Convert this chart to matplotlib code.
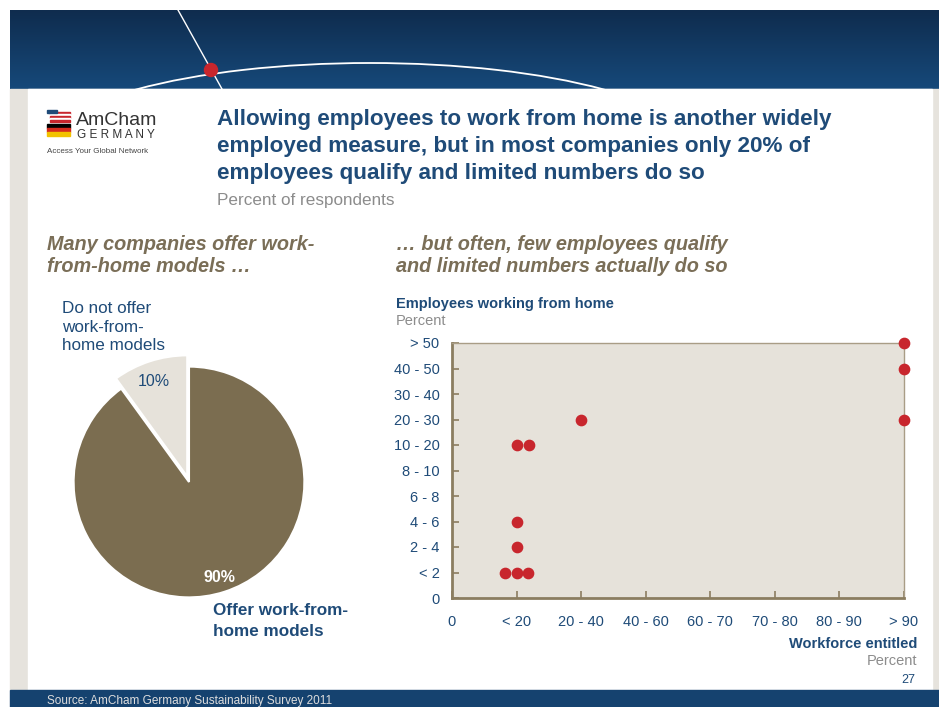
import numpy as np
import matplotlib
matplotlib.use("Agg")
import matplotlib.pyplot as plt
from matplotlib.patches import Rectangle, Arc, Circle, Polygon

plt.rcParams["font.family"] = ["Liberation Sans", "DejaVu Sans"]

# Daten
pie_labels = ["Do not offer work-from-home models", "Offer work-from-home models"]
pie_values = [10, 90]

y_cats = ["0", "< 2", "2 - 4", "4 - 6", "6 - 8", "8 - 10", "10 - 20", "20 - 30", "30 - 40", "40 - 50", "> 50"]
x_cats = ["0", "< 20", "20 - 40", "40 - 60", "60 - 70", "70 - 80", "80 - 90", "> 90"]
# Punkte (Position auf der Kategorie-Achse, leicht versetzt wie im Original)
pts_x = [0.82, 1.0, 1.18, 1.0, 1.0, 1.0, 1.2, 2.0, 7.0, 7.0, 7.0]
pts_y = [1, 1, 1, 2, 3, 6, 6, 7, 7, 9, 10]

W, H = 939, 707
BLUE = "#1f4b78"
BROWN = "#7b6d50"
BEIGE = "#e6e2da"
GREYTXT = "#8c8c8c"
SUBCOL = "#7a6e57"
RED = "#c8262d"

fig = plt.figure(figsize=(W / 100, H / 100), dpi=100)

def box(x0, y0, w, h):
    return [x0 / W, 1 - (y0 + h) / H, w / W, h / H]

def T(x, y, s, **kw):
    fig.text(x / W, 1 - y / H, s, **kw)

# Hintergrund
bg = fig.add_axes([0, 0, 1, 1])
bg.set_xlim(0, W); bg.set_ylim(H, 0); bg.axis("off")
grad = np.linspace(0, 1, 100)[:, None]
bg.imshow(grad, extent=[10, W, 89, 10], aspect="auto",
          cmap=matplotlib.colors.LinearSegmentedColormap.from_list("b", ["#0f2c4e", "#16497a"]))
bg.set_xlim(0, W); bg.set_ylim(H, 0)
bg.add_patch(Rectangle((10, 89), W - 10, 601, color="#e6e3dd", zorder=1))
bg.add_patch(Rectangle((28, 89), 904, 601, color="white", zorder=2))
bg.add_patch(Rectangle((10, 690), W - 10, 17, color="#15426f", zorder=2))
bg.add_patch(Arc((370, 153), 660, 180, theta1=0, theta2=360, color="white", lw=1.3, zorder=1.5))
bg.plot([178, 222], [10, 89], color="white", lw=1, zorder=1.5)
bg.add_patch(Circle((211, 70), 6.5, color=RED, zorder=1.6))

# Logo
for i, c in enumerate(["#c8262d", "white", "#c8262d", "white", "#c8262d"]):
    bg.add_patch(Rectangle((50, 112 + i * 2), 20, 2, color=c, zorder=3))
bg.add_patch(Rectangle((47, 110), 10, 3, color="#1f4b78", zorder=3))
bg.add_patch(Polygon([[47, 124], [70, 124], [70, 128], [47, 128]], color="black", zorder=3))
bg.add_patch(Polygon([[47, 128], [70, 128], [70, 132], [47, 132]], color="#d52b1e", zorder=3))
bg.add_patch(Polygon([[47, 132], [70, 132], [70, 136], [47, 136]], color="#f2c200", zorder=3))
T(76, 125, "AmCham", fontsize=14, color="#333333")
T(77, 138, "G E R M A N Y", fontsize=8.5, color="#333333")
T(47, 153, "Access Your Global Network", fontsize=5.8, color="#444444")

# Titel
tt = dict(fontsize=16.2, fontweight="bold", color=BLUE)
T(217, 125, "Allowing employees to work from home is another widely", **tt)
T(217, 152, "employed measure, but in most companies only 20% of", **tt)
T(217, 179, "employees qualify and limited numbers do so", **tt)
T(217, 205, "Percent of respondents", fontsize=12.3, color=GREYTXT)

sub = dict(fontsize=14.3, fontweight="bold", style="italic", color=SUBCOL, linespacing=1.2)
T(47, 250, "Many companies offer work-", **sub)
T(47, 272, "from-home models \u2026", **sub)
T(396, 250, "\u2026 but often, few employees qualify", **sub)
T(396, 272, "and limited numbers actually do so", **sub)

# Kreisdiagramm
pax = fig.add_axes(box(39, 332, 300, 300))
wedges, _ = pax.pie(pie_values, startangle=90, counterclock=True, colors=[BEIGE, BROWN],
                    explode=[0.05, 0], radius=1, wedgeprops=dict(edgecolor="white", linewidth=1.5))
wedges[0].set_radius(1.05)
pax.set_xlim(-1.3, 1.3); pax.set_ylim(-1.3, 1.3); pax.set_aspect("equal"); pax.axis("off")
T(154, 386, "10%", fontsize=11.5, color=BLUE, ha="center")
T(219, 582, "90%", fontsize=11.5, color="white", fontweight="bold", ha="center")
T(62, 313, "Do not offer", fontsize=12.3, color=BLUE)
T(62, 332, "work-from-", fontsize=12.3, color=BLUE)
T(62, 350, "home models", fontsize=12.3, color=BLUE)
T(213, 615, "Offer work-from-", fontsize=12.3, color=BLUE, fontweight="bold")
T(213, 636, "home models", fontsize=12.3, color=BLUE, fontweight="bold")

# Streudiagramm
ax = fig.add_axes(box(452, 343, 452, 255))
ax.set_facecolor(BEIGE)
ax.scatter(pts_x, pts_y, s=55, color=RED, zorder=3, clip_on=False)
ax.set_xlim(0, len(x_cats) - 1); ax.set_ylim(0, len(y_cats) - 1)
ax.set_xticks(range(len(x_cats))); ax.set_xticklabels(x_cats)
ax.set_yticks(range(len(y_cats))); ax.set_yticklabels(y_cats)
ax.tick_params(axis="both", direction="in", length=5, width=1.2, color="#8b7d60", labelcolor=BLUE, labelsize=10.5)
ax.tick_params(axis="y", pad=9)
ax.tick_params(axis="x", pad=12.5)
for sp in ["left", "bottom"]:
    ax.spines[sp].set_color("#8b7d60"); ax.spines[sp].set_linewidth(2)
for sp in ["top", "right"]:
    ax.spines[sp].set_color("#a99d86"); ax.spines[sp].set_linewidth(1)

T(396, 308, "Employees working from home", fontsize=10.5, fontweight="bold", color=BLUE)
T(396, 325, "Percent", fontsize=10.5, color=GREYTXT)
T(917, 648, "Workforce entitled", fontsize=10.5, fontweight="bold", color=BLUE, ha="right")
T(917, 665, "Percent", fontsize=10.5, color=GREYTXT, ha="right")
T(915, 683, "27", fontsize=9, color=BLUE, ha="right")
T(47, 704, "Source: AmCham Germany Sustainability Survey 2011", fontsize=8.5, color="#dddddd")

fig.savefig("out.png", dpi=100)
